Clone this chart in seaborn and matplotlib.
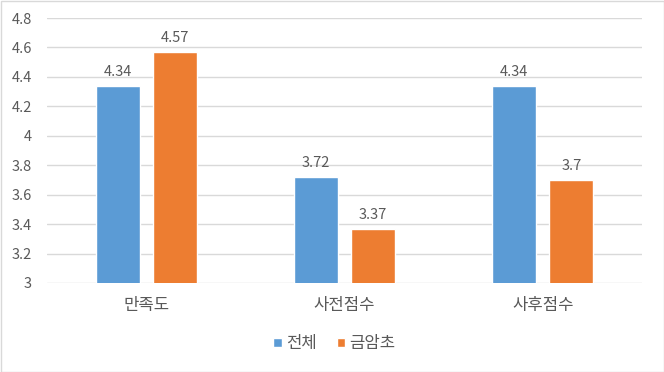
import matplotlib
matplotlib.use("Agg")
import matplotlib.pyplot as plt
import seaborn as sns
import pandas as pd
from matplotlib.patches import Rectangle

categories = ["만족도", "사전점수", "사후점수"]
series_names = ["전체", "금암초"]
values_all = [4.34, 3.72, 4.34]
values_geum = [4.57, 3.37, 3.7]
label_all = ["4.34", "3.72", "4.34"]
label_geum = ["4.57", "3.37", "3.7"]
yticks = [3, 3.2, 3.4, 3.6, 3.8, 4, 4.2, 4.4, 4.6, 4.8]
ytick_labels = ["3", "3.2", "3.4", "3.6", "3.8", "4", "4.2", "4.4", "4.6", "4.8"]

sns.set_theme(style="white")
plt.rcParams['font.family'] = ['Noto Sans CJK KR', 'DejaVu Sans']

df = pd.DataFrame({
    "cat": categories * 2,
    "series": [series_names[0]] * 3 + [series_names[1]] * 3,
    "value": values_all + values_geum,
})

fig = plt.figure(figsize=(6.64, 3.72), dpi=100)
ax = fig.add_axes([47/664, 1-283/372, (642-47)/664, (283-18)/372])
text_color = "#595959"
palette = {"전체": "#5B9BD5", "금암초": "#ED7D31"}
sns.barplot(data=df, x="cat", y="value", hue="series", palette=palette,
            width=0.575, gap=0.23, ax=ax, legend=True, saturation=1)
ax.set_ylim(3, 4.8)
ax.set_yticks(yticks)
ax.set_yticklabels(ytick_labels, fontsize=10.5, color=text_color)
ax.set_xlim(-0.5, 2.5)
ax.tick_params(axis='x', labelsize=12, colors=text_color, length=0, pad=10)
ax.tick_params(axis='y', length=0, pad=11)
ax.set_xlabel("")
ax.set_ylabel("")
ax.grid(axis='y', color="#D9D9D9", linewidth=1)
ax.set_axisbelow(True)
for s in ax.spines.values():
    s.set_visible(False)

labels_sets = [label_all, label_geum]
for cont, labs in zip(ax.containers, labels_sets):
    ax.bar_label(cont, labels=labs, padding=5, fontsize=10.5, color=text_color)

leg = ax.legend(loc="center", bbox_to_anchor=(0.483, -0.23), ncol=2, frameon=False,
                fontsize=12, handlelength=0.5, handleheight=0.5, handletextpad=0.25,
                columnspacing=1.2)
for t in leg.get_texts():
    t.set_color(text_color)

fig.patches.append(Rectangle((0.5/664, 0.5/372), 1-1/664, 1-1/372, transform=fig.transFigure,
                             fill=False, edgecolor="#D9D9D9", linewidth=1))
fig.savefig("out.png", dpi=100)
